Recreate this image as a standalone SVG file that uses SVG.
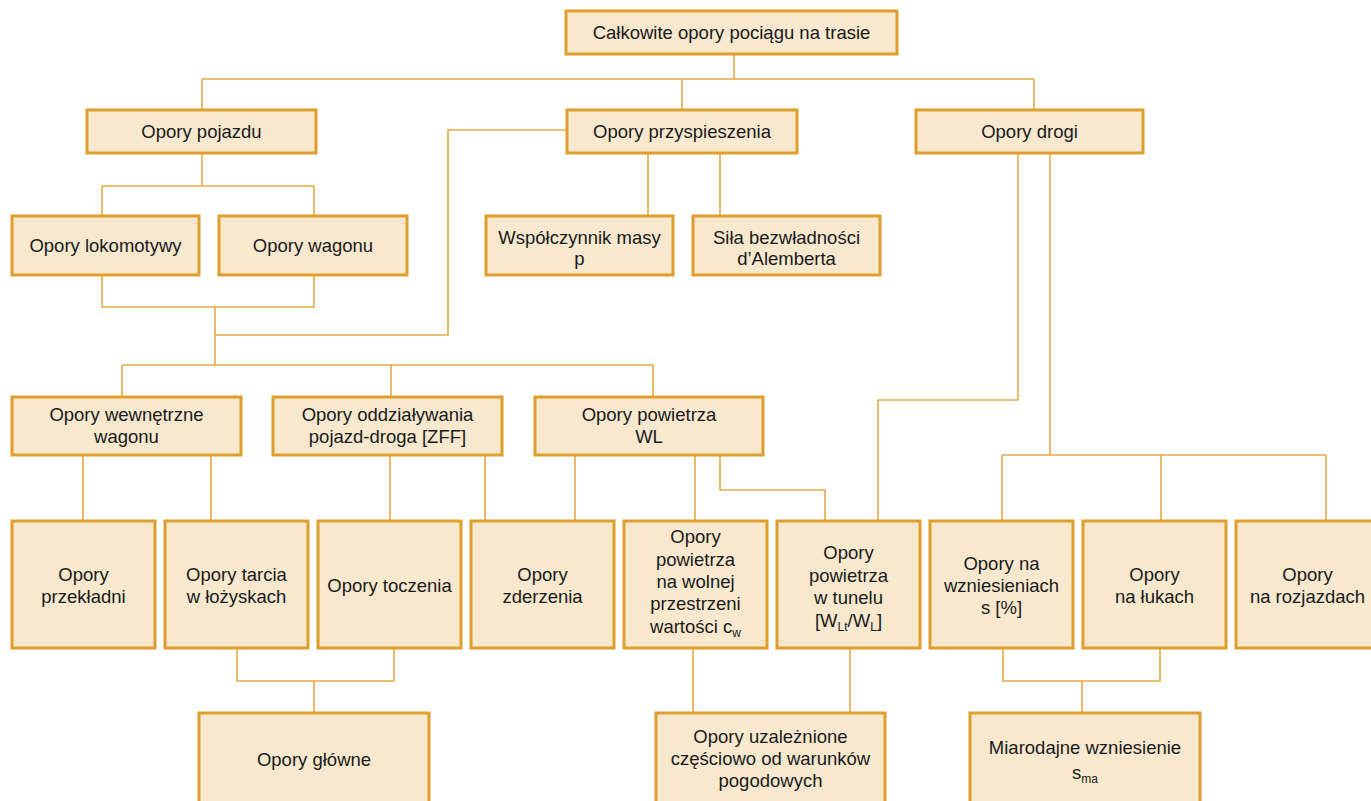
<svg xmlns="http://www.w3.org/2000/svg" width="1371" height="801" viewBox="0 0 1371 801">
<style>
.box{fill:#F7E8CE;stroke:#E09E2C;stroke-width:3}
.con{fill:none;stroke:#E6AA45;stroke-width:1.6}
text{font-family:"Liberation Sans",Arial,sans-serif;font-size:18.5px;fill:#1a1a1a;text-anchor:middle}
.sub{font-size:12px}
</style>
<rect width="1371" height="801" fill="#ffffff"/>
<g id="connectors">
<path class="con" d="M734 54V79M202 79H1034M202 79V110M682 79V110M1034 79V110"/>
<path class="con" d="M202 153V186M102 186H314M102 186V216M314 186V216"/>
<path class="con" d="M648 153V216M720 153V216"/>
<path class="con" d="M102 275V307H314V275M215 307V365M215 335H448V130H567"/>
<path class="con" d="M122 365H653M122 365V397M391 365V397M653 365V397"/>
<path class="con" d="M83 455V521M211 455V521M390 455V521M485 455V521M575 455V521M695 455V521M720 455V490H825V521"/>
<path class="con" d="M1018 153V400H878V521M1050 153V455M1002 455H1326M1002 455V521M1161 455V521M1326 455V521"/>
<path class="con" d="M237 648V681H394V648M314 681V713"/>
<path class="con" d="M693 648V713M850 648V713"/>
<path class="con" d="M1003 648V681H1160V648M1082 681V713"/>
</g>
<g id="n_total"><rect class="box" x="566" y="11" width="331" height="43"/><text x="731.5" y="39">Całkowite opory pociągu na trasie</text></g>
<g id="n_pojazdu"><rect class="box" x="87" y="110" width="229" height="43"/><text x="201.5" y="138">Opory pojazdu</text></g>
<g id="n_przysp"><rect class="box" x="567" y="110" width="230" height="43"/><text x="682" y="138">Opory przyspieszenia</text></g>
<g id="n_drogi"><rect class="box" x="916" y="110" width="227" height="43"/><text x="1029.5" y="138">Opory drogi</text></g>
<g id="n_lok"><rect class="box" x="12" y="216" width="187" height="59"/><text x="105.5" y="252">Opory lokomotywy</text></g>
<g id="n_wag"><rect class="box" x="219" y="216" width="188" height="59"/><text x="313" y="252">Opory wagonu</text></g>
<g id="n_wspol"><rect class="box" x="486" y="216" width="187" height="59"/><text x="579.5" y="244">Współczynnik masy</text><text x="579.5" y="265">p</text></g>
<g id="n_sila"><rect class="box" x="693" y="216" width="187" height="59"/><text x="786.5" y="244">Siła bezwładności</text><text x="786.5" y="265">d’Alemberta</text></g>
<g id="n_wewn"><rect class="box" x="12" y="397" width="229" height="58"/><text x="126.5" y="421">Opory wewnętrzne</text><text x="126.5" y="443">wagonu</text></g>
<g id="n_oddz"><rect class="box" x="273" y="397" width="229" height="58"/><text x="387.5" y="421">Opory oddziaływania</text><text x="387.5" y="443">pojazd-droga [ZFF]</text></g>
<g id="n_wl"><rect class="box" x="535" y="397" width="228" height="58"/><text x="649" y="421">Opory powietrza</text><text x="649" y="443">WL</text></g>
<g id="n_przekl"><rect class="box" x="12" y="521" width="143" height="127"/><text x="83.5" y="581">Opory</text><text x="83.5" y="603">przekładni</text></g>
<g id="n_tarcia"><rect class="box" x="165" y="521" width="143" height="127"/><text x="236.5" y="581">Opory tarcia</text><text x="236.5" y="603">w łożyskach</text></g>
<g id="n_tocz"><rect class="box" x="318" y="521" width="143" height="127"/><text x="389.5" y="592">Opory toczenia</text></g>
<g id="n_zderz"><rect class="box" x="471" y="521" width="143" height="127"/><text x="542.5" y="581">Opory</text><text x="542.5" y="603">zderzenia</text></g>
<g id="n_wolna"><rect class="box" x="624" y="521" width="143" height="127"/><text x="695.5" y="543">Opory</text><text x="695.5" y="566">powietrza</text><text x="695.5" y="588">na wolnej</text><text x="695.5" y="610">przestrzeni</text><text x="695.5" y="633">wartości c<tspan class="sub" dy="4">w</tspan></text></g>
<g id="n_tunel"><rect class="box" x="777" y="521" width="143" height="127"/><text x="848.5" y="559">Opory</text><text x="848.5" y="582">powietrza</text><text x="848.5" y="604">w tunelu</text><text x="848.5" y="627">[W<tspan class="sub" dy="4">Lt</tspan><tspan dy="-4">/W</tspan><tspan class="sub" dy="4">L</tspan><tspan dy="-4">]</tspan></text></g>
<g id="n_wzn"><rect class="box" x="930" y="521" width="143" height="127"/><text x="1001.5" y="570">Opory na</text><text x="1001.5" y="592">wzniesieniach</text><text x="1001.5" y="614">s [%]</text></g>
<g id="n_luk"><rect class="box" x="1083" y="521" width="143" height="127"/><text x="1154.5" y="581">Opory</text><text x="1154.5" y="603">na łukach</text></g>
<g id="n_rozj"><rect class="box" x="1236" y="521" width="143" height="127"/><text x="1307.5" y="581">Opory</text><text x="1307.5" y="603">na rozjazdach</text></g>
<g id="n_glowne"><rect class="box" x="199" y="713" width="230" height="96"/><text x="314" y="766">Opory główne</text></g>
<g id="n_uzal"><rect class="box" x="656" y="713" width="229" height="96"/><text x="770.5" y="743">Opory uzależnione</text><text x="770.5" y="765">częściowo od warunków</text><text x="770.5" y="787">pogodowych</text></g>
<g id="n_miar"><rect class="box" x="970" y="713" width="230" height="96"/><text x="1085" y="754">Miarodajne wzniesienie</text><text x="1085" y="779">s<tspan class="sub" dy="4">ma</tspan></text></g>
</svg>
